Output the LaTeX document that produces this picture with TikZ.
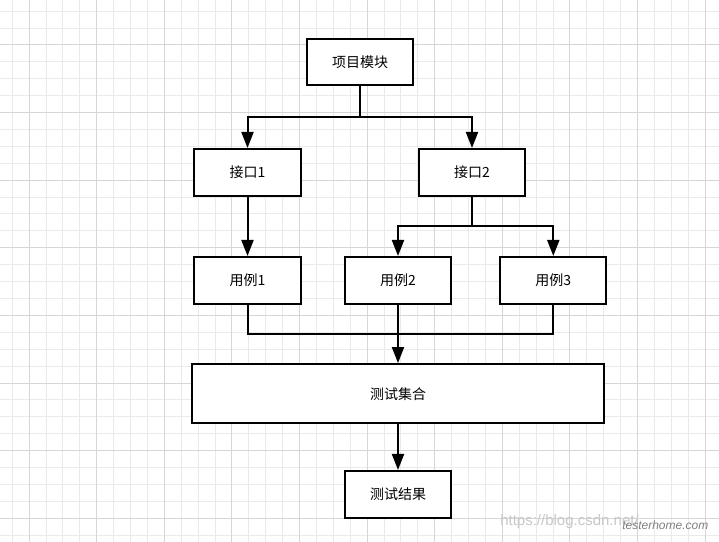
\documentclass[tikz,border=0pt]{standalone}
\usepackage{fontspec}
\setmainfont{Noto Sans CJK SC}
\newfontfamily\wmfont{Liberation Sans}
\usetikzlibrary{arrows.meta}
\definecolor{gridminor}{RGB}{234,234,234}
\definecolor{gridmajor}{RGB}{214,214,214}
\definecolor{wmgray}{RGB}{200,200,200}
\tikzset{
  box/.style={draw, line width=1.5pt, fill=white, inner sep=0pt,
    minimum width=106*0.75pt, minimum height=46*0.75pt,
    font=\fontsize{10.5}{12}\selectfont},
  link/.style={line width=1.5pt},
  arr/.style={line width=1.5pt, -{Triangle[length=12pt,width=9pt]}},
  minorline/.style={draw=gridminor, line width=0.75pt},
  majorline/.style={draw=gridmajor, line width=0.75pt},
}
\begin{document}
\begin{tikzpicture}[x=0.75pt,y=-0.75pt]
\useasboundingbox (0,0) rectangle (719,542);
\fill[white] (0,0) rectangle (719,542);
% grid
\foreach \k in {0,...,41} {
  \draw[minorline] (12.2+16.9*\k,0) -- (12.2+16.9*\k,542);
}
\foreach \k in {0,...,31} {
  \draw[minorline] (0,11.2+16.9*\k) -- (719,11.2+16.9*\k);
}
\foreach \k in {0,...,10} {
  \draw[majorline] (29.1+67.6*\k,0) -- (29.1+67.6*\k,542);
}
\foreach \k in {0,...,7} {
  \draw[majorline] (0,45+67.6*\k) -- (719,45+67.6*\k);
}
% nodes
\node[box] (P)  at (360,62)     {项目模块};
\node[box, minimum width=107*0.75pt, minimum height=47*0.75pt] (I1) at (247.5,172.5) {接口1};
\node[box, minimum height=47*0.75pt] (I2) at (472,172.5) {接口2};
\node[box, minimum width=107*0.75pt, minimum height=47*0.75pt] (U1) at (247.5,280.5) {用例1};
\node[box, minimum height=47*0.75pt] (U2) at (398,280.5) {用例2};
\node[box, minimum height=47*0.75pt] (U3) at (553.3,280.5) {用例3};
\node[box, minimum width=411.7*0.75pt, minimum height=59.3*0.75pt] (S) at (398,393.7) {测试集合};
\node[box, minimum height=46.7*0.75pt] (R) at (398,494.3) {测试结果};
% junctions
\coordinate (j1) at (360,117);
\coordinate (j2) at (472,226);
\coordinate (j3) at (398,334);
% connectors
\draw[arr] (P.south) -- (j1) -| (I1.north);
\draw[arr] (j1) -| (I2.north);
\draw[arr] (I1.south) -- (U1.north);
\draw[arr] (I2.south) -- (j2) -| (U2.north);
\draw[arr] (j2) -| (U3.north);
\draw[link] (U1.south) |- (j3);
\draw[link] (U3.south) |- (j3);
\draw[arr] (U2.south) -- (S.north);
\draw[arr] (S.south) -- (R.north);
% watermark
\node[anchor=west, text=wmgray, inner sep=0pt, font=\wmfont\fontsize{11.25}{12}\selectfont] (wm) at (500,522) {https://blog.csdn.net/};
\node[anchor=west, text=gray, inner sep=0pt, font=\wmfont\itshape\fontsize{9}{10}\selectfont] (wm2) at (622,525) {testerhome.com};
\end{tikzpicture}
\end{document}
